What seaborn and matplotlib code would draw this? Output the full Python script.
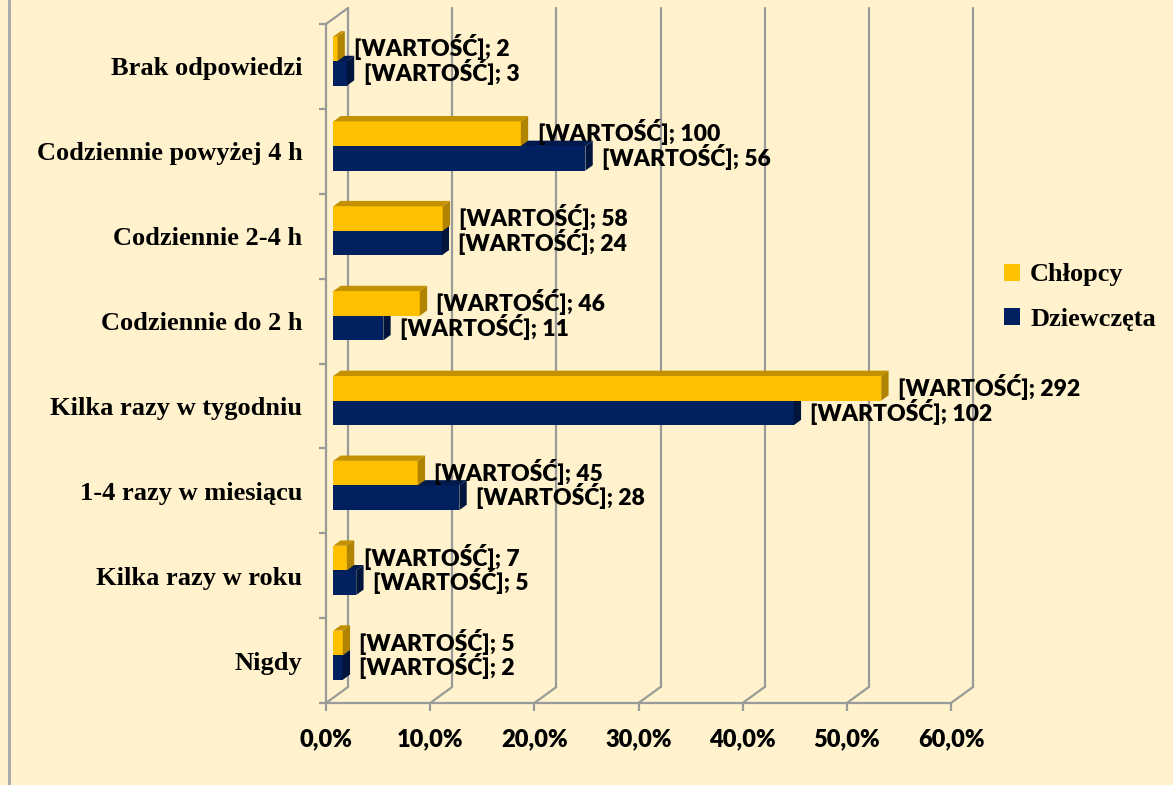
import numpy as np
import pandas as pd
import matplotlib.pyplot as plt
import seaborn as sns
from matplotlib.patches import Polygon, Patch
from matplotlib.lines import Line2D
from matplotlib.ticker import FuncFormatter

categories = [
    "Brak odpowiedzi",
    "Codziennie powyżej 4 h",
    "Codziennie 2-4 h",
    "Codziennie do 2 h",
    "Kilka razy w tygodniu",
    "1-4 razy w miesiącu",
    "Kilka razy w roku",
    "Nigdy",
]
series = ["Chłopcy", "Dziewczęta"]
boys_pct = [0.4, 18.0, 10.5, 8.3, 52.6, 8.1, 1.3, 0.9]
girls_pct = [1.3, 24.2, 10.4, 4.8, 44.2, 12.1, 2.2, 0.9]
boys_n = [2, 100, 58, 46, 292, 45, 7, 5]
girls_n = [3, 56, 24, 11, 102, 28, 5, 2]
x_ticks = [0, 10, 20, 30, 40, 50, 60]

BG = "#FFF2CC"
GRID = "#9A9A9A"
front_cols = ["#FFC000", "#002060"]
top_cols = ["#C49200", "#001A4E"]
side_cols = ["#B08300", "#00143C"]

df = pd.DataFrame({
    "kategoria": categories * 2,
    "procent": boys_pct + girls_pct,
    "płeć": [series[0]] * len(categories) + [series[1]] * len(categories),
    "n": boys_n + girls_n,
})

sns.set_style("white")
plt.rcParams["font.family"] = ["Lato", "DejaVu Sans"]
plt.rcParams.update({
    "text.color": "black",
    "xtick.labelcolor": "black",
    "ytick.labelcolor": "black",
})

fig = plt.figure(figsize=(11.73, 7.85), dpi=100, facecolor=BG)
ax = fig.add_axes([326 / 1173, 82 / 785, 625 / 1173, 679 / 785])
ax.set_facecolor("none")

sns.barplot(data=df, x="procent", y="kategoria", hue="płeć", orient="h",
            palette=front_cols, width=0.58, saturation=1, errorbar=None,
            legend=False, ax=ax)

ax.set_xlim(0, 60)
ax.set_ylim(7.5, -0.5)
ax.set_xlabel("")
ax.set_ylabel("")

# depth of the 3d box (data units), bars sit in the middle third
DX = 60 * 22 / 625
DY = 16 / (679 / 8)
ox, oy = DX / 3, -DY / 3

# walls / gridlines
for v in x_ticks:
    ax.plot([v + DX, v + DX], [7.5 - DY, -0.5 - DY], color=GRID, lw=1.6,
            clip_on=False, zorder=0.5)
    ax.plot([v, v + DX], [7.5, 7.5 - DY], color=GRID, lw=1.6,
            clip_on=False, zorder=0.5)
ax.plot([0, DX], [-0.5, -0.5 - DY], color=GRID, lw=1.6, clip_on=False, zorder=0.5)

for spine in ["top", "right"]:
    ax.spines[spine].set_visible(False)
for spine in ["left", "bottom"]:
    ax.spines[spine].set_color(GRID)
    ax.spines[spine].set_linewidth(1.6)

# 3d bars: blue drawn first, yellow on top
for i, cont in reversed(list(enumerate(ax.containers))):
    counts = boys_n if i == 0 else girls_n
    z = 3 if i == 0 else 2
    for p, n in zip(cont.patches, counts):
        x0, y0, w, h = p.get_x(), p.get_y(), p.get_width(), p.get_height()
        x0, y0 = x0 + ox, y0 + oy
        p.set_x(x0)
        p.set_y(y0)
        p.set_zorder(z)
        p.set_edgecolor("none")
        xe = x0 + w
        top = Polygon([(x0, y0), (xe, y0), (xe + ox, y0 + oy), (x0 + ox, y0 + oy)],
                      closed=True, facecolor=top_cols[i], edgecolor="none", zorder=z)
        side = Polygon([(xe, y0), (xe, y0 + h), (xe + ox, y0 + h + oy), (xe + ox, y0 + oy)],
                       closed=True, facecolor=side_cols[i], edgecolor="none", zorder=z)
        ax.add_patch(top)
        ax.add_patch(side)
        ax.annotate(f"[WARTOŚĆ]; {n}", xy=(xe, y0 + h / 2), xytext=(12, 1),
                    textcoords="offset points", ha="left", va="center",
                    fontsize=16.5, fontweight="heavy", color="black", zorder=6,
                    annotation_clip=False)

ax.xaxis.set_major_formatter(FuncFormatter(lambda v, _: f"{v:.1f}%".replace(".", ",")))
ax.set_xticks(x_ticks)
ax.tick_params(axis="x", length=6, width=1.6, color=GRID, pad=12,
               labelsize=17, bottom=True)
for lab in ax.get_xticklabels():
    lab.set_fontweight("heavy")

ax.set_yticks(np.arange(-0.5, 8, 1), minor=True)
ax.tick_params(axis="y", which="minor", length=5, width=1.6, color=GRID, left=True)
ax.tick_params(axis="y", which="major", length=0, pad=17, labelsize=19)
for lab in ax.get_yticklabels():
    lab.set_fontfamily(["Liberation Serif", "DejaVu Serif"])
    lab.set_fontweight("bold")

handles = [Patch(facecolor=c, edgecolor="none") for c in front_cols]
fig.legend(handles, series, loc="center left", bbox_to_anchor=(980 / 1173, 1 - 297 / 785),
           frameon=False, handlelength=0.6, handleheight=0.6, handletextpad=0.4,
           labelspacing=0.8,
           prop={"family": ["Liberation Serif", "DejaVu Serif"], "weight": "bold", "size": 19})

fig.add_artist(Line2D([9 / 1173, 9 / 1173], [0, 1], transform=fig.transFigure,
                      color="#A6A6A6", lw=2))

fig.savefig("out.png", dpi=100, facecolor=BG)
